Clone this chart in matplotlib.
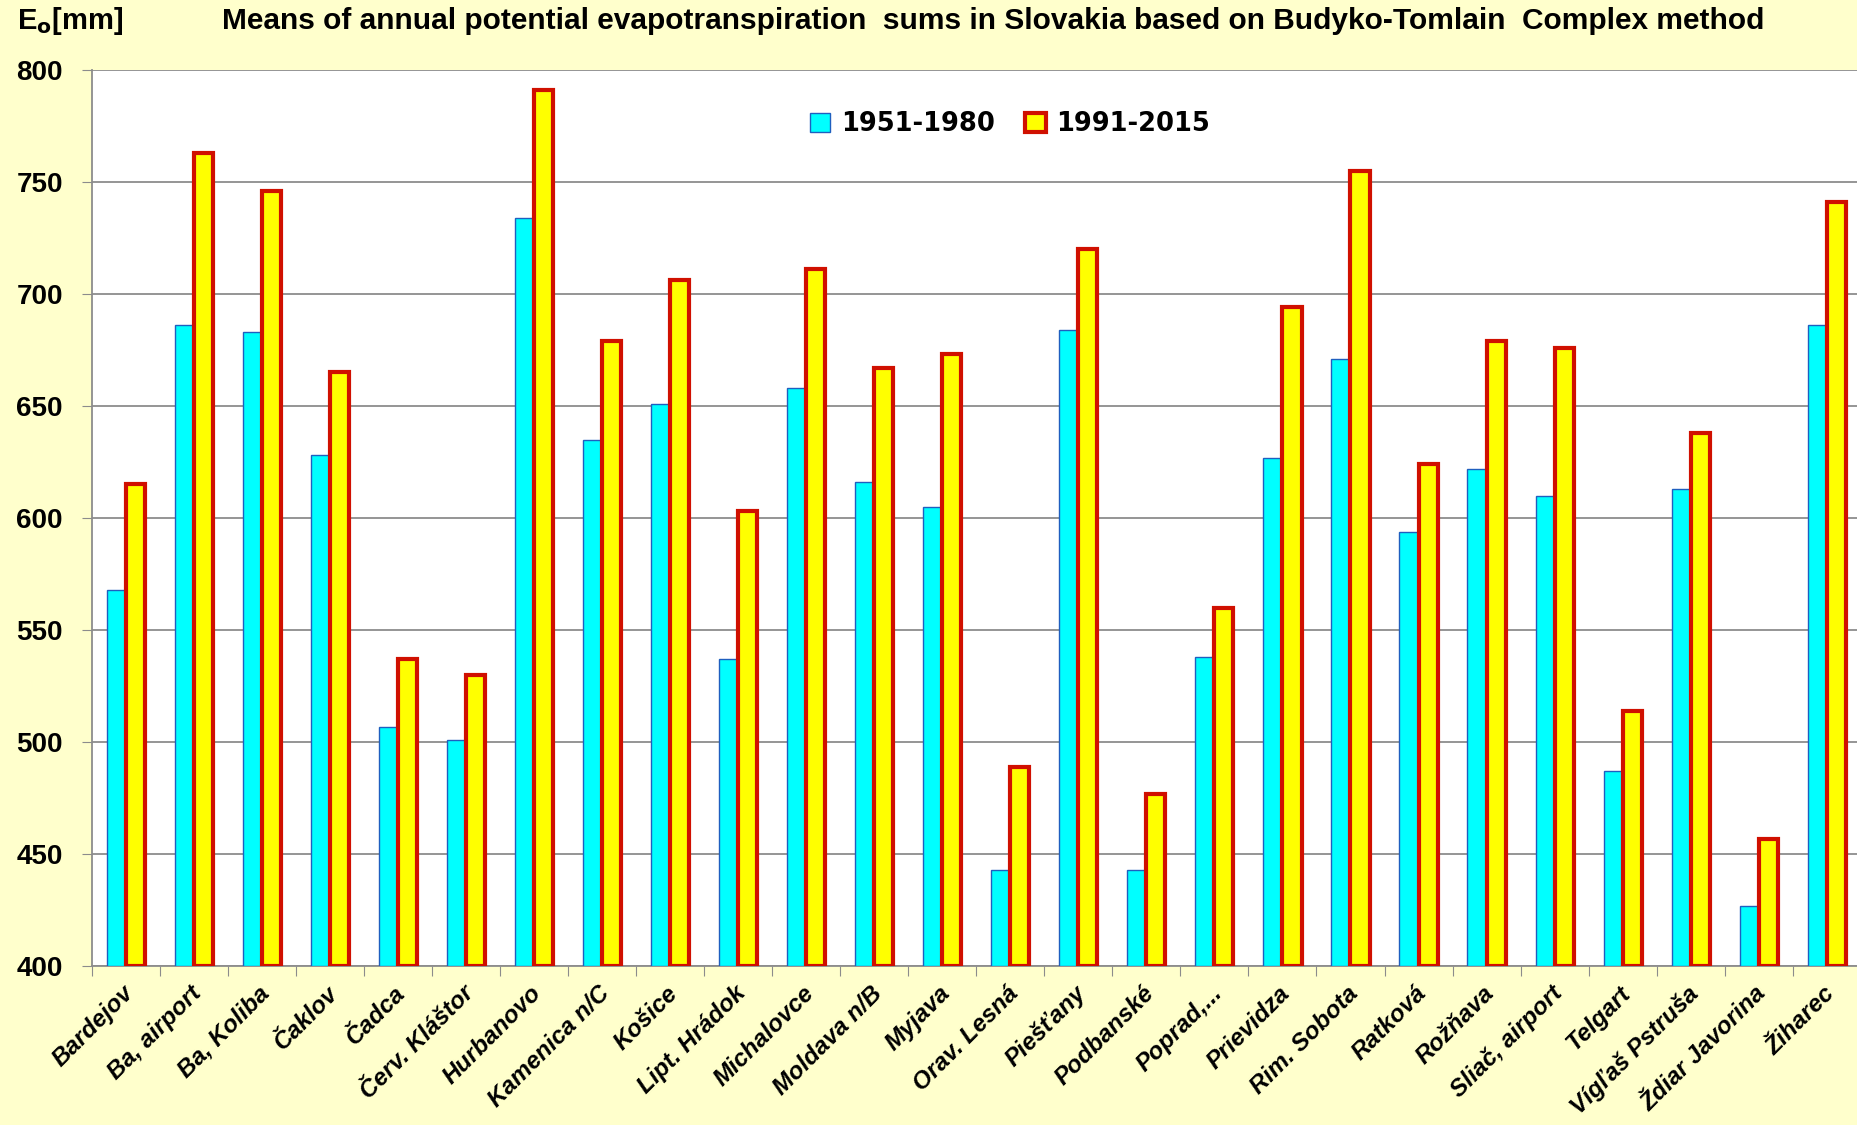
import numpy as np
import matplotlib
matplotlib.use("Agg")
import matplotlib.pyplot as plt
import matplotlib.transforms as mtransforms
from matplotlib.patches import Patch

# station names and the two period means (mm)
stations = ["Bardejov", "Ba, airport", "Ba, Koliba", "Čaklov", "Čadca", "Červ. Kláštor",
            "Hurbanovo", "Kamenica n/C", "Košice", "Lipt. Hrádok", "Michalovce",
            "Moldava n/B", "Myjava", "Orav. Lesná", "Piešťany", "Podbanské", "Poprad,...",
            "Prievidza", "Rim. Sobota", "Ratková", "Rožňava", "Sliač, airport", "Telgart",
            "Vígľaš Pstruša", "Ždiar Javorina", "Žiharec"]
eo_1951_1980 = [568, 686, 683, 628, 507, 501, 734, 635, 651, 537, 658, 616, 605,
                443, 684, 443, 538, 627, 671, 594, 622, 610, 487, 613, 427, 686]
eo_1991_2015 = [615, 763, 746, 665, 537, 530, 791, 679, 706, 603, 711, 667, 673,
                489, 720, 477, 560, 694, 755, 624, 679, 676, 514, 638, 457, 741]
y_ticks = [400, 450, 500, 550, 600, 650, 700, 750, 800]

bg = "#FFFFCC"
narrow = ["Liberation Sans Narrow", "Liberation Sans", "DejaVu Sans"]

fig = plt.figure(figsize=(18.57, 11.25), dpi=100, facecolor=bg)
ax = fig.add_axes([0.0495, 0.141, 0.9525, 0.797])
ax.set_facecolor("white")

x = np.arange(len(stations))
w = 0.28
ax.bar(x - w / 2, np.array(eo_1951_1980) - 400, w, bottom=400, color="#00FFFF",
       edgecolor="#1F5FBF", linewidth=1.0, zorder=3)
ax.bar(x + w / 2, np.array(eo_1991_2015) - 400, w, bottom=400, color="#FFFF00",
       edgecolor="#D01000", linewidth=3.0, zorder=3)

ax.set_ylim(400, 800)
ax.set_xlim(-0.5, len(stations) - 0.5)
ax.set_yticks(y_ticks)
ax.set_yticklabels([str(v) for v in y_ticks], fontsize=20, fontweight="bold", family=narrow)
ax.yaxis.grid(True, color="#8C8C8C", linewidth=1.3, zorder=0)

# category boundary ticks, labels at centres
ax.set_xticks(np.arange(len(stations) + 1) - 0.5)
ax.set_xticklabels([])
ax.set_xticks(x, minor=True)
ax.set_xticklabels(stations, minor=True, rotation=45, ha="right", rotation_mode="anchor",
                   fontsize=17.5, fontweight="bold", fontstyle="italic",
                   family=["Liberation Sans", "DejaVu Sans"])
ax.tick_params(axis="x", which="minor", length=0, pad=11)
ax.tick_params(axis="x", which="major", length=7, color="#8C8C8C", direction="out")
ax.tick_params(axis="y", length=7, color="#8C8C8C", direction="out", pad=14)
offset = mtransforms.ScaledTranslation(-0.04, 0, fig.dpi_scale_trans)
for lbl in ax.get_xticklabels(minor=True):
    lbl.set_transform(lbl.get_transform() + offset)

for s in ["top", "right"]:
    ax.spines[s].set_visible(False)
for s in ["left", "bottom"]:
    ax.spines[s].set_color("#8C8C8C")
    ax.spines[s].set_linewidth(1.3)

handles = [Patch(facecolor="#00FFFF", edgecolor="#1F5FBF", linewidth=1.0, label="1951-1980"),
           Patch(facecolor="#FFFF00", edgecolor="#D01000", linewidth=3.0, label="1991-2015")]
ax.legend(handles=handles, loc="center", bbox_to_anchor=(0.519, 0.939), ncol=2, frameon=False,
          prop={"size": 18.5, "weight": "bold"}, handlelength=0.8, handleheight=0.8,
          handletextpad=0.4, columnspacing=1.2)

fig.text(0.535, 0.981, "Means of annual potential evapotranspiration  sums in Slovakia based on Budyko-Tomlain  Complex method",
         ha="center", va="center", fontsize=21.5, fontweight="bold", family=narrow)
fig.text(0.009, 0.981, r"E$_\mathbf{o}$[mm]", ha="left", va="center", fontsize=21,
         fontweight="bold", family=narrow)

fig.savefig("out.png", dpi=100, facecolor=bg)
